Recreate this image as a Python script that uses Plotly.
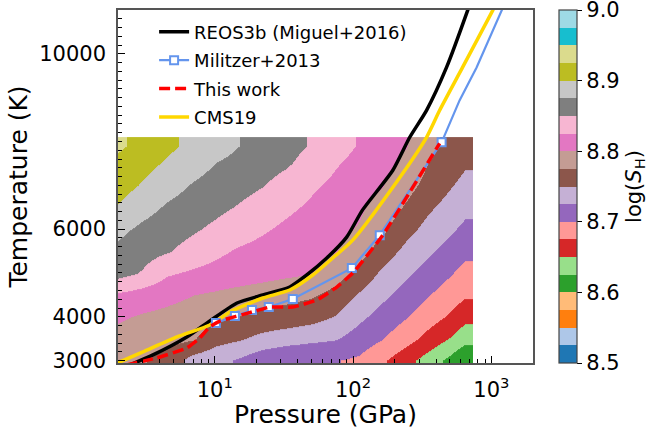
import plotly.graph_objects as go

# ---------------- data ----------------
# entropy field log(S_H) on a (P, T) grid
P_grid = [2, 3, 4.5, 7, 10, 15, 22, 33, 50, 75, 110, 160, 240, 350, 500, 650]
T_grid = [3000, 3500, 4000, 4500, 5000, 5500, 6000, 6500, 7000, 7500, 7900]
logS = [
    [8.782, 8.777, 8.766, 8.740, 8.733, 8.722, 8.708, 8.702, 8.701, 8.701, 8.696, 8.680, 8.659, 8.639, 8.618, 8.600],
    [8.792, 8.787, 8.783, 8.777, 8.759, 8.752, 8.742, 8.735, 8.730, 8.726, 8.713, 8.701, 8.684, 8.666, 8.648, 8.633],
    [8.803, 8.797, 8.793, 8.789, 8.779, 8.774, 8.768, 8.765, 8.759, 8.748, 8.730, 8.716, 8.701, 8.686, 8.671, 8.657],
    [8.821, 8.814, 8.807, 8.800, 8.796, 8.791, 8.787, 8.782, 8.778, 8.766, 8.747, 8.731, 8.715, 8.701, 8.688, 8.678],
    [8.859, 8.848, 8.828, 8.821, 8.817, 8.813, 8.809, 8.805, 8.801, 8.786, 8.768, 8.746, 8.729, 8.715, 8.702, 8.692],
    [8.869, 8.860, 8.852, 8.840, 8.830, 8.822, 8.817, 8.812, 8.806, 8.801, 8.785, 8.764, 8.743, 8.729, 8.715, 8.706],
    [8.881, 8.870, 8.862, 8.853, 8.845, 8.836, 8.828, 8.820, 8.813, 8.806, 8.798, 8.781, 8.758, 8.742, 8.729, 8.719],
    [8.898, 8.884, 8.872, 8.863, 8.856, 8.848, 8.840, 8.830, 8.821, 8.812, 8.804, 8.791, 8.772, 8.754, 8.741, 8.732],
    [8.910, 8.898, 8.885, 8.873, 8.866, 8.858, 8.851, 8.841, 8.829, 8.819, 8.810, 8.802, 8.784, 8.767, 8.752, 8.743],
    [8.919, 8.908, 8.897, 8.885, 8.875, 8.868, 8.860, 8.853, 8.841, 8.827, 8.817, 8.807, 8.794, 8.775, 8.762, 8.753],
    [8.929, 8.917, 8.905, 8.894, 8.885, 8.875, 8.867, 8.858, 8.848, 8.835, 8.823, 8.812, 8.801, 8.782, 8.768, 8.760],
]

# REOS3b (Miguel+2016)
reos_P = [2.44, 3.58, 6.29, 9.23, 14.5, 22.3, 34.9, 46.3, 64.6, 90.0, 117, 194, 257, 340, 474, 673, 710]
reos_T = [2901, 3129, 3539, 3904, 4314, 4497, 4679, 4953, 5340, 5818, 6433, 7344, 8096, 8711, 9690, 10986, 11200]

# CMS19
cms_P = [1.9, 3.03, 5.34, 9.23, 12.9, 22.3, 34.9, 51.2, 71.3, 99.5, 194, 340, 423, 619, 1021, 1080]
cms_T = [2920, 3199, 3541, 3813, 4109, 4428, 4610, 4953, 5340, 5750, 6957, 8096, 8711, 9690, 10986, 11150]

# Militzer+2013 (markers) and its continuation
mil_P = [10.2, 14.0, 18.6, 24.6, 36.7, 98, 156, 437]
mil_T = [3858, 4017, 4154, 4222, 4404, 5110, 5862, 7980]
mil_ext_P = [437, 589, 782, 1186, 1250]
mil_ext_T = [7980, 8937, 9690, 10986, 11150]

# This work
tw_P = [2.3, 3.83, 6.3, 7.8, 9.2, 10.9, 18.6, 25.0, 36.7, 54.7, 76.3, 99.5, 164, 423]
tw_T = [2900, 3063, 3289, 3516, 3767, 3903, 4108, 4222, 4222, 4382, 4678, 4997, 5862, 7957]

cbar_ticks = [8.5, 8.6, 8.7, 8.8, 8.9, 9.0]
x_ticks = [10, 100, 1000]
x_ticktext = ["10<sup>1</sup>", "10<sup>2</sup>", "10<sup>3</sup>"]
y_ticks = [3000, 4000, 6000, 10000]

tab20 = ["#1f77b4", "#aec7e8", "#ff7f0e", "#ffbb78", "#2ca02c", "#98df8a",
         "#d62728", "#ff9896", "#9467bd", "#c5b0d5", "#8c564b", "#c49c94",
         "#e377c2", "#f7b6d2", "#7f7f7f", "#c7c7c7", "#bcbd22", "#dbdb8d",
         "#17becf", "#9edae5"]

# ---------------- figure ----------------
n = len(tab20)
cscale = []
for i, c in enumerate(tab20):
    cscale.append([i / n, c])
    cscale.append([(i + 1) / n, c])

ZMIN, ZMAX = 8.5, 9.0

FONT = "DejaVu Sans"
fig = go.Figure()

fig.add_trace(go.Heatmap(
    x=P_grid, y=T_grid, z=logS, zmin=ZMIN, zmax=ZMAX, zsmooth="best",
    colorscale=cscale, showscale=True, showlegend=False, hoverinfo="skip",
    colorbar=dict(
        x=1.0627, xanchor="left", xpad=0, ypad=0, y=0.5, yanchor="middle",
        len=1, lenmode="fraction", thickness=18,
        outlinewidth=1.2, outlinecolor="#444",
        tickmode="array", tickvals=cbar_ticks, ticktext=[f"{v:.1f}" for v in cbar_ticks],
        ticklabeloverflow="allow",
        ticks="outside", ticklen=5, tickwidth=1.2, tickcolor="#000",
        tickfont=dict(size=21, family=FONT, color="#000"),
        title=dict(text="log(<i>S</i><sub>H</sub>)", side="right",
                   font=dict(size=21, family=FONT, color="#000")),
    ),
))

fig.add_trace(go.Scatter(
    x=reos_P, y=reos_T, mode="lines", name="REOS3b (Miguel+2016)",
    line=dict(color="black", width=3.5, shape="spline", smoothing=0.6),
    legendrank=1, legendgroup="a"))
fig.add_trace(go.Scatter(
    x=cms_P, y=cms_T, mode="lines", name="CMS19",
    line=dict(color="#FFD700", width=3.5, shape="spline", smoothing=0.6),
    legendrank=4, legendgroup="d"))
fig.add_trace(go.Scatter(
    x=mil_ext_P, y=mil_ext_T, mode="lines", showlegend=False,
    line=dict(color="#6495ED", width=2.2), legendgroup="b"))
fig.add_trace(go.Scatter(
    x=mil_P, y=mil_T, mode="lines+markers", name="Militzer+2013",
    line=dict(color="#6495ED", width=2.2),
    marker=dict(symbol="square", size=8, color="white",
                line=dict(color="#6495ED", width=2)),
    legendrank=2, legendgroup="b"))
fig.add_trace(go.Scatter(
    x=tw_P, y=tw_T, mode="lines", name="This work",
    line=dict(color="red", width=3.5, dash="11px,5px", shape="spline", smoothing=0.4),
    legendrank=3, legendgroup="c"))

axis_common = dict(showline=True, linecolor="#555", linewidth=1.5, mirror=True,
                   showgrid=False, zeroline=False, ticks="inside",
                   tickcolor="#000", tickwidth=1.2, ticklen=7,
                   tickfont=dict(size=21, family=FONT, color="#000"))

x_minor = [d * m for m in (1, 10, 100, 1000) for d in range(2, 10)]
fig.update_xaxes(type="log", range=[0.30103, 3.30103], tickvals=x_ticks,
                 ticktext=x_ticktext, ticklabelstandoff=7,
                 minor=dict(ticks="inside", ticklen=4, tickwidth=1, tickcolor="#000",
                            tickmode="array", tickvals=x_minor),
                 title=dict(text="Pressure (GPa)", standoff=2,
                            font=dict(size=25, family=FONT, color="#000")),
                 **axis_common)
fig.update_yaxes(range=[2945, 11000], tickvals=y_ticks,
                 ticktext=[str(v) for v in y_ticks],
                 minor=dict(ticks="inside", ticklen=4, tickwidth=1, tickcolor="#000",
                            dtick=200, tick0=0),
                 ticklabelstandoff=6,
                 title=dict(text="Temperature (K)", standoff=4,
                            font=dict(size=25, family=FONT, color="#000")),
                 **axis_common)

fig.update_layout(
    width=648, height=429,
    margin=dict(l=118, r=115, t=10, b=66, autoexpand=False),
    paper_bgcolor="white", plot_bgcolor="white",
    font=dict(family=FONT, color="#000"),
    legend=dict(x=0.087, y=0.99, xanchor="left", yanchor="top",
                bgcolor="rgba(0,0,0,0)", font=dict(size=18, family=FONT, color="#000"),
                tracegroupgap=2, traceorder="grouped"),
)

fig.write_html("out.html")
